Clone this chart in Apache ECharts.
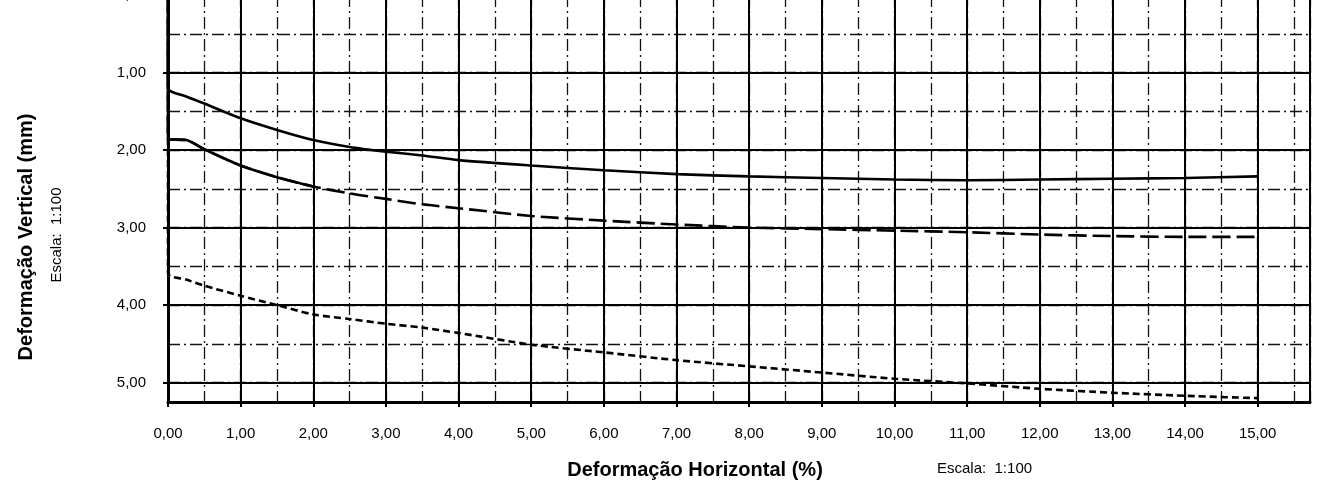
<!DOCTYPE html>
<html><head><meta charset="utf-8">
<script src="https://cdn.jsdelivr.net/npm/echarts@6/dist/echarts.min.js"></script>
<style>html,body{margin:0;padding:0;background:#fff}#c{width:1319px;height:481px}</style>
</head><body><div id="c"></div>
<script>
// Horizontal deformation (%) sample positions
const xPts = [0, 0.25, 0.5, 1, 1.5, 2, 2.5, 3, 3.5, 4, 5, 6, 7, 8, 9, 10, 11, 12, 13, 14, 15];
// Vertical deformation (mm) for each curve
const curveSolid     = [1.20, 1.31, 1.40, 1.59, 1.74, 1.87, 1.96, 2.02, 2.07, 2.13, 2.20, 2.26, 2.31, 2.34, 2.36, 2.38, 2.39, 2.38, 2.37, 2.36, 2.34];
const curveLongDash  = [1.86, 1.87, 1.99, 2.20, 2.35, 2.47, 2.56, 2.63, 2.70, 2.75, 2.85, 2.91, 2.96, 3.00, 3.02, 3.04, 3.06, 3.09, 3.11, 3.12, 3.12];
const curveShortDash = [3.59, 3.67, 3.75, 3.88, 4.00, 4.12, 4.18, 4.24, 4.29, 4.36, 4.51, 4.61, 4.71, 4.79, 4.87, 4.95, 5.01, 5.08, 5.13, 5.17, 5.20];
// every curve starts at the origin
const origin = [0, 0];
const longDashSolidUntil = 2;

const xMin = 0, xMax = 15.72, xMajor = 1, xMinor = 0.5;
const yMin = 0, yMax = 5.25, yMajor = 1, yMinor = 0.5;

const xTitle = 'Deformação Horizontal (%)';
const yTitle = 'Deformação Vertical (mm)';
const scaleText = 'Escala:  1:100';

const FONT = "'Liberation Sans', Arial, sans-serif";
const fmt = v => (Math.abs(v - Math.round(v)) < 1e-9 ? v.toFixed(2).replace('.', ',') : '');
const build = arr => [origin].concat(xPts.map((x, i) => [x, arr[i]]));
const buildUntil = (arr, lim) => [origin].concat(xPts.map((x, i) => [x, arr[i]]).filter(p => p[0] <= lim));

const chart = echarts.init(document.getElementById('c'), null, {renderer: 'canvas'});
const minorStyle = {color: '#111', width: 1.3, type: [12, 4, 2, 4]};
chart.setOption({
  animation: false,
  backgroundColor: '#fff',
  grid: {left: 168, right: 9, top: -5, bottom: 79, containLabel: false, outerBoundsMode: 'none'},
  xAxis: [
    {type: 'value', min: xMin, max: xMax, interval: xMajor, position: 'bottom', z: 3,
     axisLine: {show: true, onZero: false, lineStyle: {color: '#000', width: 3}},
     axisTick: {show: true, length: 5, lineStyle: {color: '#000', width: 2}},
     axisLabel: {formatter: fmt, color: '#000', fontSize: 15, fontFamily: FONT, margin: 24, showMaxLabel: false},
     splitLine: {show: true, lineStyle: {color: '#000', width: 2}}},
    {type: 'value', min: xMin, max: xMax, interval: xMinor, position: 'top',
     axisLine: {show: false}, axisTick: {show: false}, axisLabel: {show: false},
     splitLine: {show: true, lineStyle: minorStyle}}
  ],
  yAxis: [
    {type: 'value', min: yMin, max: yMax, interval: yMajor, inverse: true, position: 'left', z: 3,
     axisLine: {show: true, onZero: false, lineStyle: {color: '#000', width: 3}},
     axisTick: {show: true, length: 5, lineStyle: {color: '#000', width: 2}},
     axisLabel: {formatter: fmt, color: '#000', fontSize: 15, fontFamily: FONT, margin: 22, showMaxLabel: false},
     splitLine: {show: true, lineStyle: {color: '#000', width: 2}}},
    {type: 'value', min: yMin, max: yMax, interval: yMinor, inverse: true, position: 'right',
     axisLine: {show: false}, axisTick: {show: false}, axisLabel: {show: false},
     splitLine: {show: true, lineStyle: minorStyle}}
  ],
  series: [
    {type: 'line', xAxisIndex: 0, yAxisIndex: 0, data: build(curveSolid), symbol: 'none', smooth: 0.25, z: 5,
     lineStyle: {color: '#000', width: 2.6}},
    {type: 'line', xAxisIndex: 0, yAxisIndex: 0, data: buildUntil(curveLongDash, longDashSolidUntil), symbol: 'none', smooth: 0.25, z: 5,
     lineStyle: {color: '#000', width: 2.6}},
    {type: 'line', xAxisIndex: 0, yAxisIndex: 0, data: build(curveLongDash), symbol: 'none', smooth: 0.25, z: 5,
     lineStyle: {color: '#000', width: 2.6, type: [18, 6]}},
    {type: 'line', xAxisIndex: 0, yAxisIndex: 0, data: build(curveShortDash), symbol: 'none', smooth: 0.25, z: 5,
     lineStyle: {color: '#000', width: 2.6, type: [7, 4]}}
  ],
  graphic: [
    {type: 'text', x: 695, y: 470, style: {text: xTitle, font: "bold 20px " + FONT, fill: '#000', align: 'center', verticalAlign: 'middle'}},
    {type: 'text', x: 937, y: 469, style: {text: scaleText, font: "15px " + FONT, fill: '#000', align: 'left', verticalAlign: 'middle'}},
    {type: 'text', x: 26, y: 237, rotation: Math.PI / 2, style: {text: yTitle, font: "bold 20px " + FONT, fill: '#000', align: 'center', verticalAlign: 'middle'}},
    {type: 'text', x: 57, y: 235, rotation: Math.PI / 2, style: {text: scaleText, font: "15px " + FONT, fill: '#000', align: 'center', verticalAlign: 'middle'}}
  ]
});
</script></body></html>
